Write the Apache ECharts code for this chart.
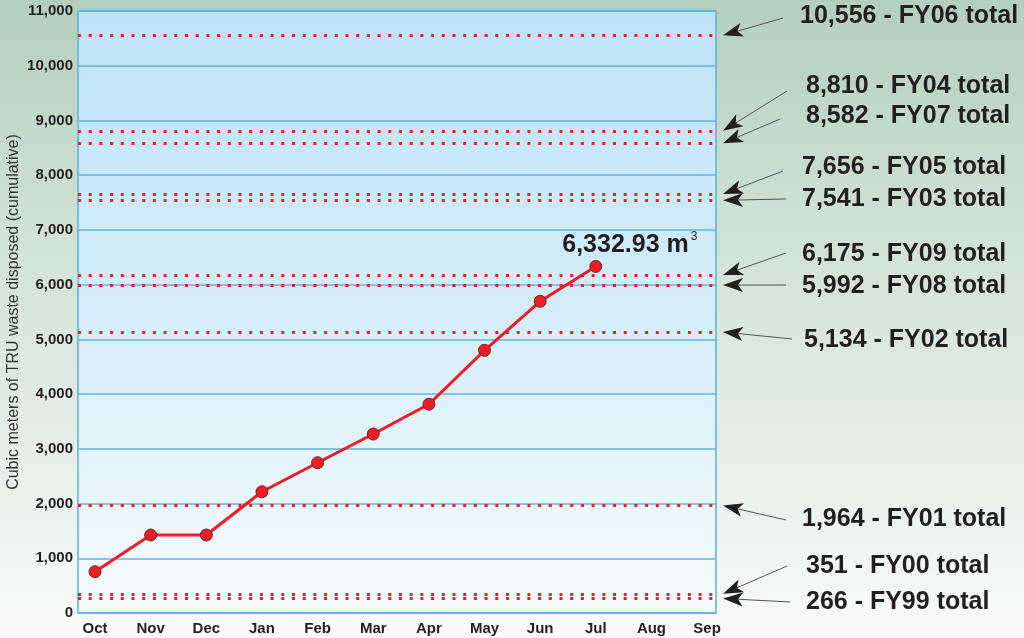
<!DOCTYPE html>
<html>
<head>
<meta charset="utf-8">
<title>TRU waste disposed (cumulative)</title>
<script src="https://cdn.jsdelivr.net/npm/echarts@6/dist/echarts.min.js"></script>
<style>
  html, body { margin: 0; padding: 0; }
  #chart { width: 1024px; height: 638px; }
</style>
</head>
<body>
<div id="chart"></div>
<script>
// Months of the fiscal year (x axis categories)
const months = ['Oct', 'Nov', 'Dec', 'Jan', 'Feb', 'Mar', 'Apr', 'May', 'Jun', 'Jul', 'Aug', 'Sep'];
// Cumulative cubic meters disposed so far this year, one per month reported
const disposed = [755, 1425, 1425, 2215, 2745, 3270, 3815, 4800, 5695, 6332.93];
// Previous fiscal-year totals drawn as reference lines
const totalValues = [10556, 8810, 8582, 7656, 7541, 6175, 5992, 5134, 1964, 351, 266];
const totalYears  = ['FY06', 'FY04', 'FY07', 'FY05', 'FY03', 'FY09', 'FY08', 'FY02', 'FY01', 'FY00', 'FY99'];
// Y axis scale
const yMin = 0, yMax = 11000, yStep = 1000;

// Placement of the annotation text (left x, centre y) and the start of each arrow
const noteText = [[800, 16], [806, 86], [806, 116], [802, 167], [802, 199], [802, 254], [802, 286], [804, 340], [802, 519], [806, 566], [806, 602]];
const noteTail = [[783, 18], [787, 91], [780, 119], [783, 171], [786, 199], [786, 253], [786, 285], [792, 339], [786, 520], [787, 566], [790, 602]];
const arrowTipX = 723;

const fmt = v => v.toLocaleString('en-US');
const ink = '#231f20';
const red = '#ee1c25';

const chart = echarts.init(document.getElementById('chart'), null, { renderer: 'canvas' });

const lineData = disposed.map((v, i) => {
  const item = { value: [i, v] };
  if (i === disposed.length - 1) {
    item.label = {
      show: true,
      position: 'top',
      offset: [34, 4],
      formatter: () => '{a|' + v.toLocaleString('en-US', { minimumFractionDigits: 2 }) + ' m}{s|3}',
      rich: {
        a: { fontFamily: 'Liberation Sans, Arial', fontWeight: 'bold', fontSize: 25, color: ink, lineHeight: 28 },
        s: { fontFamily: 'Liberation Sans, Arial', fontSize: 12, color: ink, verticalAlign: 'top', lineHeight: 28, padding: [0, 0, 12, 2] }
      }
    };
  }
  return item;
});

chart.setOption({
  animation: false,
  backgroundColor: {
    type: 'linear', x: 0, y: 0, x2: 0, y2: 1,
    colorStops: [
      { offset: 0, color: '#b3cfbb' },
      { offset: 0.35, color: '#cfe1d4' },
      { offset: 0.65, color: '#e1ece4' },
      { offset: 1, color: '#f9fbf9' }
    ]
  },
  grid: {
    left: 78, right: 308, top: 11, bottom: 25,
    containLabel: false,
    outerBoundsMode: 'none',
    show: true,
    borderColor: '#55b2de',
    borderWidth: 1.5,
    backgroundColor: {
      type: 'linear', x: 0, y: 0, x2: 0, y2: 1,
      colorStops: [
        { offset: 0, color: '#bde3f6' },
        { offset: 0.5, color: '#d5edf9' },
        { offset: 1, color: '#f6fbfe' }
      ]
    }
  },
  xAxis: {
    type: 'value',
    min: -0.306,
    max: 11.16,
    axisLine: { show: false },
    axisTick: { show: false },
    splitLine: { show: false },
    axisLabel: {
      customValues: months.map((m, i) => i),
      formatter: v => months[Math.round(v)],
      margin: 8,
      fontFamily: 'Liberation Sans, Arial',
      fontWeight: 'bold',
      fontSize: 15,
      color: ink
    }
  },
  yAxis: {
    type: 'value',
    min: yMin,
    max: yMax,
    interval: yStep,
    name: 'Cubic meters of TRU waste disposed (cumulative)',
    nameLocation: 'middle',
    nameGap: 56,
    nameMoveOverlap: false,
    nameRotate: 90,
    nameTextStyle: { fontFamily: 'Liberation Sans, Arial', fontSize: 16, color: '#333' },
    axisLine: { show: false },
    axisTick: { show: false },
    splitLine: { lineStyle: { color: '#62b4de', width: 1.5 } },
    axisLabel: {
      margin: 5,
      formatter: v => fmt(v),
      fontFamily: 'Liberation Sans, Arial',
      fontWeight: 'bold',
      fontSize: 15,
      color: ink
    }
  },
  series: [
    {
      type: 'line',
      data: [],
      silent: true,
      markLine: {
        silent: true,
        symbol: 'none',
        label: { show: false },
        lineStyle: { color: red, width: 3, type: [3, 7.7], opacity: 1 },
        data: totalValues.map(v => ({ yAxis: v }))
      }
    },
    {
      type: 'line',
      data: lineData,
      symbol: 'circle',
      symbolSize: 12,
      lineStyle: { color: red, width: 3 },
      itemStyle: { color: red, borderColor: '#6d2a2a', borderWidth: 1 },
      z: 5
    }
  ]
});

// Arrows and text naming each fiscal-year total line
function buildNotes() {
  const elements = [];
  totalValues.forEach((v, i) => {
    const tipY = chart.convertToPixel({ yAxisIndex: 0 }, v);
    const tip = [arrowTipX, tipY];
    const tail = noteTail[i];
    const dx = tip[0] - tail[0], dy = tip[1] - tail[1];
    const len = Math.hypot(dx, dy);
    const ux = dx / len, uy = dy / len;
    const nx = -uy, ny = ux;
    const back = [tip[0] - ux * 20, tip[1] - uy * 20];
    const notch = [tip[0] - ux * 15, tip[1] - uy * 15];
    elements.push({
      type: 'line', silent: true,
      shape: { x1: tail[0], y1: tail[1], x2: notch[0], y2: notch[1] },
      style: { stroke: '#555', lineWidth: 1 }
    });
    elements.push({
      type: 'polygon', silent: true,
      shape: { points: [tip, [back[0] + nx * 7, back[1] + ny * 7], notch, [back[0] - nx * 7, back[1] - ny * 7]] },
      style: { fill: ink }
    });
    elements.push({
      type: 'text', silent: true,
      x: noteText[i][0], y: noteText[i][1],
      style: {
        text: fmt(v) + ' - ' + totalYears[i] + ' total',
        fontFamily: 'Liberation Sans, Arial',
        fontWeight: 'bold',
        fontSize: 25,
        fill: ink,
        verticalAlign: 'middle',
        align: 'left'
      }
    });
  });
  chart.setOption({ graphic: elements });
}
buildNotes();
</script>
</body>
</html>
